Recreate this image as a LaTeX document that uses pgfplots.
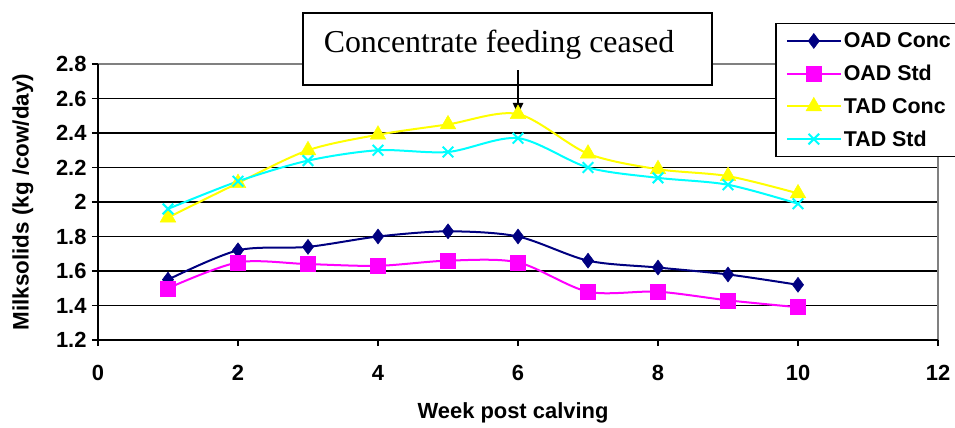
\documentclass[border=0pt]{standalone}
\usepackage{fontspec}
\setmainfont{Liberation Sans}
\newfontfamily\seriffont{Liberation Serif}
\usepackage{pgfplots}
\pgfplotsset{compat=1.18}
\usetikzlibrary{arrows.meta}
\definecolor{navyc}{RGB}{0,0,128}
\definecolor{magc}{RGB}{255,0,255}
\definecolor{yelc}{RGB}{255,255,0}
\definecolor{cyac}{RGB}{0,255,255}
\definecolor{bordergray}{RGB}{128,128,128}
\begin{document}
\begin{tikzpicture}[x=1bp,y=1bp]
\path[use as bounding box] (-98,-87) rectangle (857,340);
\begin{axis}[
  at={(0,0)}, anchor=south west,
  scale only axis, width=840bp, height=276bp,
  xmin=0, xmax=12, ymin=1.2, ymax=2.8,
  xtick={0,2,4,6,8,10,12},
  ytick={1.2,1.4,1.6,1.8,2.0,2.2,2.4,2.6,2.8},
  /pgf/number format/.cd, fixed, precision=1, assume math mode=true,
  /pgfplots/.cd,
  tick label style={font=\bfseries\fontsize{22}{26}\selectfont, black},
  xticklabel style={yshift=-16bp},
  yticklabel style={xshift=-2bp},
  axis line style={draw=none},
  tick style={black, line width=1.5bp},
  tick align=outside,
  major tick length=6bp,
  xtick pos=left, ytick pos=left,
  ymajorgrids,
  major grid style={black, line width=1.5bp},
  clip=false,
  xlabel={Week post calving},
  ylabel={Milksolids (kg /cow/day)},
  every axis x label/.style={at={(axis description cs:0.5,0)}, xshift=-5bp, yshift=-73bp, anchor=center, font=\bfseries\fontsize{22}{26}\selectfont},
  every axis y label/.style={at={(axis description cs:0,0.5)}, xshift=-75bp, rotate=90, anchor=center, font=\bfseries\fontsize{22.5}{26}\selectfont},
  legend style={at={(0.806,1.1486)}, anchor=north west, draw=black, line width=1.5bp, fill=white,
    font=\bfseries\fontsize{21.5}{26}\selectfont, inner xsep=10bp, inner ysep=7bp, row sep=12bp},
  legend cell align=left,
  legend image code/.code={\draw[mark repeat=2,mark phase=2] plot coordinates {(0bp,0bp) (27bp,0bp) (54bp,0bp)};},
]
\addplot[navyc, line width=2bp, smooth, tension=0.5, mark=diamond*, mark size=7.5bp, mark options={solid, fill=navyc, line width=0.5bp}]
  coordinates {(1,1.55) (2,1.72) (3,1.74) (4,1.80) (5,1.83) (6,1.80) (7,1.66) (8,1.62) (9,1.58) (10,1.52)};
\addlegendentry{OAD Conc\hspace{12bp}}
\addplot[magc, line width=2bp, smooth, tension=0.5, mark=square*, mark size=7.5bp, mark options={solid, fill=magc, line width=0.5bp}]
  coordinates {(1,1.50) (2,1.65) (3,1.64) (4,1.63) (5,1.66) (6,1.65) (7,1.48) (8,1.48) (9,1.43) (10,1.39)};
\addlegendentry{OAD Std}
\addplot[yelc, line width=2bp, smooth, tension=0.5, mark=triangle*, mark size=9bp, mark options={solid, fill=yelc, line width=0.5bp}]
  coordinates {(1,1.91) (2,2.11) (3,2.30) (4,2.39) (5,2.45) (6,2.51) (7,2.28) (8,2.19) (9,2.15) (10,2.05)};
\addlegendentry{TAD Conc}
\addplot[cyac, line width=2bp, smooth, tension=0.5, mark=x, mark size=7.5bp, mark options={solid, line width=2bp}]
  coordinates {(1,1.96) (2,2.12) (3,2.24) (4,2.30) (5,2.29) (6,2.37) (7,2.20) (8,2.14) (9,2.10) (10,1.99)};
\addlegendentry{TAD Std}

% plot area borders
\draw[bordergray, line width=1.5bp] (rel axis cs:0,1) -- (rel axis cs:1,1) -- (rel axis cs:1,0);
\draw[black, line width=2bp] (rel axis cs:0,1) -- (rel axis cs:0,0) -- (rel axis cs:1,0);

% annotation
\draw[black, fill=white, line width=1.5bp] (rel axis cs:0.2440,0.9239) rectangle (rel axis cs:0.7310,1.1848);
\node[anchor=base, font=\seriffont\fontsize{32}{36}\selectfont] at (rel axis cs:0.4774,1.0399) {Concentrate feeding ceased};
\draw[black, line width=1.2bp, -{Latex[length=14bp,width=11bp]}] (axis cs:6,2.765) -- (axis cs:6,2.493);
\end{axis}
\end{tikzpicture}
\end{document}
